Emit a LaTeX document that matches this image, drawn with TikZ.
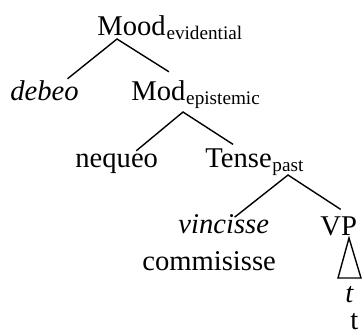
\documentclass[tikz,border=0pt]{standalone}
\usepackage{fontspec}
\setmainfont{Liberation Serif}
\usetikzlibrary{calc}

\tikzset{
  word/.style={anchor=base west, inner sep=0pt, font=\fontsize{14.3}{16}\selectfont},
  subword/.style={anchor=base west, inner sep=0pt, yshift=-2pt, font=\fontsize{9.6}{11}\selectfont},
  branch/.style={line width=0.7pt}
}

\begin{document}
\begin{tikzpicture}[x=0.5pt, y=-0.5pt]
				\useasboundingbox (0,0) rectangle (362,334);
				\path (97,35) node[word] (mood){Mood}
				(mood.base east) node[subword] (moodsub){evidential}
				(10,100) node[word] (debeo){\itshape debeo}
				(131,100) node[word] (mod){Mod}
				(mod.base east) node[subword] (modsub){epistemic}
				(75,167) node[word] (nequeo){nequeo}
				(205,167) node[word] (tense){Tense}
				(tense.base east) node[subword] (tensesub){past}
				(178,233) node[word] (vincisse){\itshape vincisse}
				(142,270) node[word] (commisisse){commisisse}
				(320,235) node[word] (vp){VP}
				(345,302) node[word] (trace){\itshape t}
				(350,329) node[word] (trace2){t};
				
				\coordinate (moodtip) at (117,39);
				\coordinate (modtip) at (183,112);
				\coordinate (tensetip) at (288,175);
				\coordinate (vptip) at (349,238);
				
				\draw[branch] ($(debeo.north)+(23,-1)$) -- (moodtip) -- ($(mod.north)+(10.5,-8)$);
				\draw[branch] ($(nequeo.north)+(19.5,-2)$) -- (modtip) -- ($(tense.north)+(-5.5,-3.5)$);
				\draw[branch] ($(vincisse.north)+(11,3.5)$) -- (tensetip) -- ($(vp.north)+(2,-6.5)$);
				\draw[branch] (vptip) -- (338,278) -- (361,278) -- cycle;
			\end{tikzpicture}
\end{document}
